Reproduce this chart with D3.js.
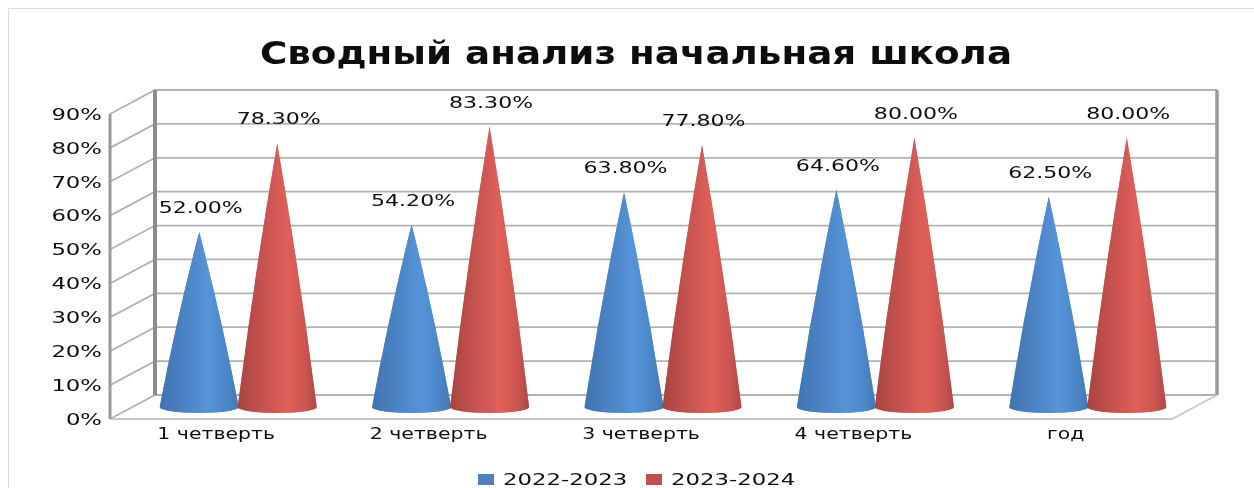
<!DOCTYPE html>
<html>
<head>
<meta charset="utf-8">
<script src="https://cdn.jsdelivr.net/npm/d3@7"></script>
<style>
  html, body { margin: 0; padding: 0; background: #fff; }
  svg { display: block; }
  text { font-family: "DejaVu Sans", sans-serif; fill: #111; }
</style>
</head>
<body>
<svg id="chart" width="1254" height="488"></svg>
<script>
var title = "Сводный анализ начальная школа";
var categories = ["1 четверть", "2 четверть", "3 четверть", "4 четверть", "год"];
var seriesNames = ["2022-2023", "2023-2024"];
var values2022 = [52.0, 54.2, 63.8, 64.6, 62.5];
var values2023 = [78.3, 83.3, 77.8, 80.0, 80.0];
var yTicks = [0, 10, 20, 30, 40, 50, 60, 70, 80, 90];
var colors = ["#4f81bd", "#c0504d"];

var root = d3.select("#chart"),
    depthX = 45,
    depthY = 24,
    plotLeft = 110,
    plotRight = 1172,
    plotBottom = 419,
    plotTop = 114;

var x = d3.scaleBand().domain(categories).range([plotLeft, plotRight]);
var y = d3.scaleLinear().domain([0, 90]).range([plotBottom, plotTop]);
// cones stand on the middle of the floor, so they have their own height scale
var coneY = d3.scaleLinear().domain([0, 90]).range([407, 104]);
var coneHalf = 39.5, coneRy = 6, coneBulge = 3;
var coneX = function(i, s) { return x(categories[i]) + x.bandwidth() / 2 + (s === 0 ? -17 : 61); };

var defs = root.append("defs");
function addGradient(id, stops) {
  var g = defs.append("linearGradient").attr("id", id);
  stops.forEach(function(s) {
    g.append("stop").attr("offset", s[0]).attr("stop-color", s[1]);
  });
}
addGradient("cone0", [[0, "#3f74b0"], [0.25, "#4a80c0"], [0.62, "#5594d8"], [0.85, "#4c86c8"], [1, "#4378b4"]]);
addGradient("cone1", [[0, "#a84340"], [0.25, "#c0504d"], [0.62, "#e05f58"], [0.85, "#cc5652"], [1, "#b04744"]]);
defs.append("filter").attr("id", "soft")
    .attr("x", "-10%").attr("y", "-5%").attr("width", "120%").attr("height", "110%")
  .append("feDropShadow")
    .attr("dx", 0).attr("dy", 0).attr("stdDeviation", 0.6)
    .attr("flood-color", "#333").attr("flood-opacity", 0.6);
defs.append("filter").attr("id", "blur")
    .attr("filterUnits", "userSpaceOnUse")
    .attr("x", 0).attr("y", 0).attr("width", 1254).attr("height", 488)
  .append("feGaussianBlur").attr("stdDeviation", 0.45);

var svg = root.append("g").attr("filter", "url(#blur)");

// the reference text is stretched sideways
function stretch(sel, k) {
  sel.each(function() {
    d3.select(this)
      .attr("textLength", this.getComputedTextLength() * k)
      .attr("lengthAdjust", "spacingAndGlyphs");
  });
}

// outer frame
svg.append("path").attr("d", "M8.5,488V8.5H1254")
    .attr("fill", "none").attr("stroke", "#dcdcdc").attr("stroke-width", 1);

svg.append("text")
    .attr("x", 636).attr("y", 64)
    .attr("text-anchor", "middle")
    .style("font-size", "32px").style("font-weight", "bold")
    .text(title)
    .call(stretch, 1.164);

// gridlines: side wall and back wall
var grid = svg.append("g").attr("fill", "none").attr("stroke", "#b2b2b2").attr("stroke-width", 1.8);
grid.selectAll("path.grid").data(yTicks).enter().append("path")
    .attr("class", "grid")
    .attr("d", function(d) {
      var yy = y(d);
      return "M" + plotLeft + "," + yy + "L" + (plotLeft + depthX) + "," + (yy - depthY) + "L" + (plotRight + depthX) + "," + (yy - depthY);
    });
// floor front edge and right corner
grid.append("path")
    .attr("stroke", "#c8c8c8")
    .attr("d", "M" + plotLeft + "," + plotBottom + "H" + plotRight + "L" + (plotRight + depthX) + "," + (plotBottom - depthY));
// wall uprights
grid.append("path").attr("stroke", "#999").attr("stroke-width", 3)
    .attr("d", "M" + plotLeft + "," + plotTop + "V" + plotBottom);
grid.append("path").attr("stroke", "#8c8c8c").attr("stroke-width", 4)
    .attr("d", "M" + (plotLeft + depthX) + "," + (plotTop - depthY) + "V" + (plotBottom - depthY));
grid.append("path").attr("stroke", "#9a9a9a").attr("stroke-width", 3.5)
    .attr("d", "M" + (plotRight + depthX) + "," + (plotTop - depthY) + "V" + (plotBottom - depthY));

// cones
[values2022, values2023].forEach(function(vals, s) {
  svg.append("g").attr("class", "series").selectAll("path").data(vals).enter().append("path")
      .attr("fill", "url(#cone" + s + ")")
      .attr("filter", "url(#soft)")
      .attr("d", function(d, i) {
        var cx = coneX(i, s), by = coneY(0), ty = coneY(d), my = (by + ty) / 2,
            mid = coneHalf / 2 + coneBulge;
        return "M" + (cx - coneHalf) + "," + by +
               "Q" + (cx - mid) + "," + my + " " + cx + "," + ty +
               "Q" + (cx + mid) + "," + my + " " + (cx + coneHalf) + "," + by +
               "A" + coneHalf + "," + coneRy + " 0 0 1 " + (cx - coneHalf) + "," + by + "Z";
      });
});

// data labels
[values2022, values2023].forEach(function(vals, s) {
  svg.append("g").selectAll("text").data(vals).enter().append("text")
      .attr("x", function(d, i) { return coneX(i, s) + 1.5; })
      .attr("y", function(d) { return coneY(d) - 19; })
      .attr("text-anchor", "middle")
      .style("font-size", "16.5px")
      .text(function(d) { return d.toFixed(2) + "%"; })
      .call(stretch, 1.336);
});

// axes
var yAxis = svg.append("g")
    .attr("transform", "translate(" + plotLeft + ",0)")
    .call(d3.axisLeft(y).tickValues(yTicks).tickSize(0).tickPadding(8).tickFormat(function(d) { return d + "%"; }));
yAxis.select(".domain").remove();
yAxis.selectAll("text").style("font-size", "16.5px").style("font-family", null).call(stretch, 1.38);

var xAxis = svg.append("g")
    .attr("transform", "translate(0," + plotBottom + ")")
    .call(d3.axisBottom(x).tickSize(0).tickPadding(8));
xAxis.select(".domain").remove();
xAxis.selectAll("text").style("font-size", "16.5px").style("font-family", null).call(stretch, 1.24);

// legend
var legendX = [478, 646];
var legend = svg.selectAll(".legend").data(seriesNames).enter().append("g")
    .attr("class", "legend")
    .attr("transform", function(d, i) { return "translate(" + legendX[i] + ",0)"; });
legend.append("rect").attr("y", 474).attr("width", 16).attr("height", 11)
    .attr("fill", function(d, i) { return colors[i]; });
legend.append("text").attr("x", 25).attr("y", 485)
    .style("font-size", "16.5px").text(function(d) { return d; })
    .call(stretch, 1.38);
</script>
</body>
</html>
